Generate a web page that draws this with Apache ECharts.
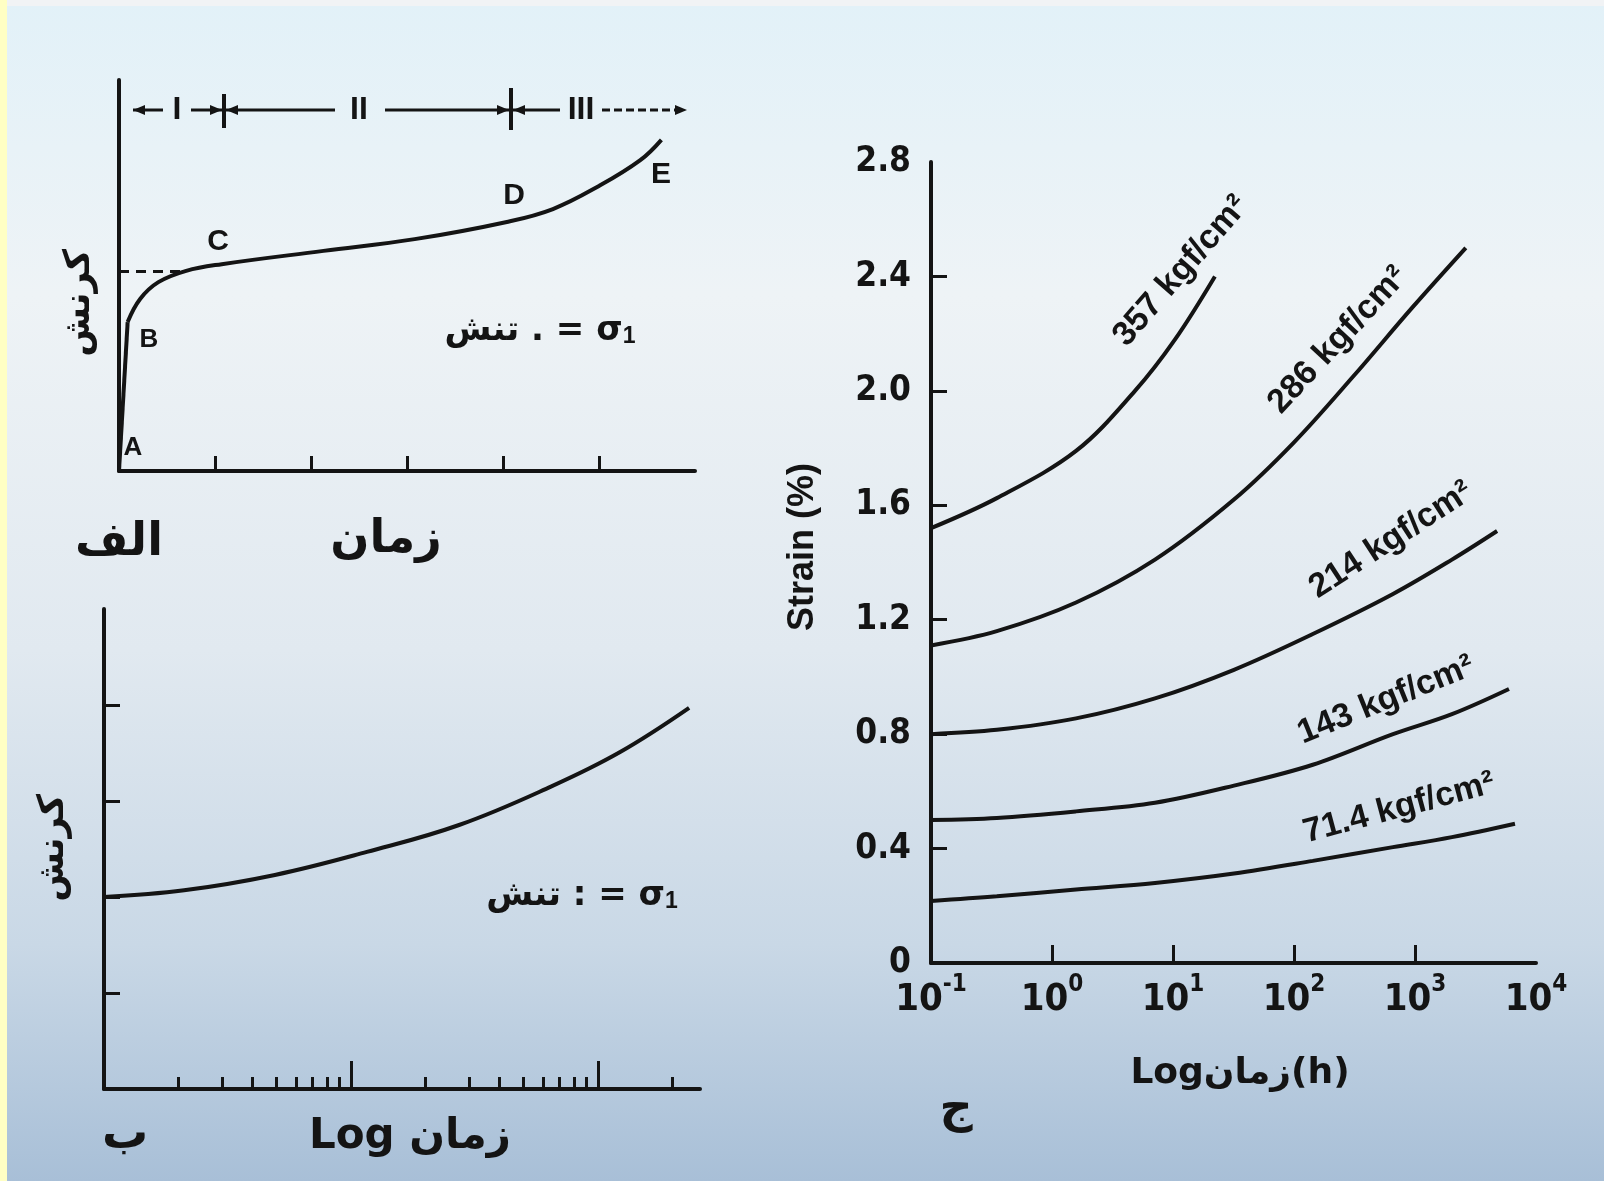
<!DOCTYPE html>
<html>
<head>
<meta charset="utf-8">
<script src="https://cdn.jsdelivr.net/npm/echarts@6.0.0/dist/echarts.min.js"></script>
<style>
html, body { margin: 0; padding: 0; background: #dfe9f1; }
#main { width: 1604px; height: 1181px; }
</style>
</head>
<body>
<div id="main"></div>
<script>
// ---- panel الف : strain vs time (schematic creep curve)
var aTicks = [1, 2, 3, 4, 5]
var abX = [0, 0.09]
var abY = [0, 3.81]
var beX = [0.09, 0.22, 0.41, 0.70, 1.07, 2.13, 3.08, 4.04, 4.52, 5.00, 5.43, 5.65]
var beY = [3.81, 4.40, 4.83, 5.12, 5.29, 5.63, 5.93, 6.37, 6.70, 7.29, 7.95, 8.47]
var dashX = [0, 0.70]
var dashY = [5.1, 5.1]

// ---- panel ب : strain vs log time
var bX = [1, 2.11, 4.92, 11.6, 27.4, 64.5, 123, 234]
var bY = [2.0, 2.07, 2.23, 2.47, 2.75, 3.15, 3.51, 3.97]
var bYTicks = [1, 2, 3, 4]
var bMajor = [10, 100]
var bMinor = [2, 3, 4, 5, 6, 7, 8, 9, 20, 30, 40, 50, 60, 70, 80, 90, 200]

// ---- panel ج : strain (%) vs log time (h)
var cXLabels = [0.1, 1, 10, 100, 1000, 10000]
var cXTicks = [1, 10, 100, 1000]
var cYTicks = [0.4, 0.8, 1.2, 1.6, 2.0, 2.4]
var stressNames = ['357 kgf/cm²', '286 kgf/cm²', '214 kgf/cm²', '143 kgf/cm²', '71.4 kgf/cm²']
var t357 = [0.1, 0.35, 1.58, 4.85, 10.4, 22.2]
var s357 = [1.52, 1.625, 1.79, 2.0, 2.18, 2.4]
var t286 = [0.1, 0.35, 1.58, 7.1, 31.9, 100, 308, 944, 2630]
var s286 = [1.11, 1.16, 1.26, 1.41, 1.62, 1.82, 2.05, 2.29, 2.50]
var t214 = [0.1, 0.35, 1.58, 7.1, 31.9, 143, 658, 2020, 4770]
var s214 = [0.80, 0.815, 0.855, 0.925, 1.025, 1.15, 1.29, 1.41, 1.51]
var t143 = [0.1, 0.35, 1.58, 7.1, 31.9, 143, 658, 2020, 5980]
var s143 = [0.50, 0.507, 0.53, 0.56, 0.62, 0.693, 0.80, 0.87, 0.958]
var t71 = [0.1, 0.35, 1.58, 7.1, 31.9, 143, 658, 2020, 6700]
var s71 = [0.217, 0.233, 0.257, 0.28, 0.313, 0.357, 0.405, 0.44, 0.487]

var INK = '#141414'
var F = "'Liberation Sans', Arial, sans-serif"
var FN = "'Liberation Sans Narrow', 'DejaVu Sans Condensed', 'Liberation Sans', sans-serif"
var FP = "'DejaVu Sans', 'Noto Sans', sans-serif"

function pairs(xs, ys) {
  return xs.map(function (x, i) { return [x, ys[i]] })
}
function curve(name, xi, yi, xs, ys, smooth, dashed) {
  return {
    name: name, type: 'line', xAxisIndex: xi, yAxisIndex: yi,
    data: pairs(xs, ys), smooth: smooth, showSymbol: false, symbol: 'none',
    lineStyle: { color: INK, width: dashed ? 3 : 4, type: dashed ? [10, 7] : 'solid' },
    z: 5
  }
}
function txt(x, y, s, size, font, rot, extra) {
  var st = { text: s, fill: INK, font: 'bold ' + size + 'px ' + font, align: 'center', verticalAlign: 'middle' }
  if (extra) for (var k in extra) st[k] = extra[k]
  return { type: 'text', x: x, y: y, rotation: (rot || 0) * Math.PI / 180, style: st, z: 10, silent: true }
}
function seg(x1, y1, x2, y2, w, dash) {
  return { type: 'line', shape: { x1: x1, y1: y1, x2: x2, y2: y2 }, style: { stroke: INK, lineWidth: w, lineDash: dash || null }, z: 10, silent: true }
}
function head(x, y, dir) {
  var d = dir * 12
  return { type: 'polygon', shape: { points: [[x, y], [x - d, y - 5], [x - d, y + 5]] }, style: { fill: INK }, z: 10, silent: true }
}

var axisLine = { show: true, onZero: false, lineStyle: { color: INK, width: 4 } }
var noLabel = { show: false }
var noSplit = { show: false }

var chart = echarts.init(document.getElementById('main'))

var subRich = {
  a: { font: 'bold 34px ' + FP, fill: INK, color: INK, verticalAlign: 'bottom', lineHeight: 42 },
  s: { font: 'bold 23px ' + F, fill: INK, color: INK, verticalAlign: 'bottom', lineHeight: 32 }
}

var graphics = [
  // background photo tone
  { type: 'rect', shape: { x: 0, y: 0, width: 1604, height: 1181 }, z: -100, silent: true,
    style: { fill: new echarts.graphic.LinearGradient(0, 0, 0, 1, [
      { offset: 0, color: '#e2f1f8' }, { offset: 0.25, color: '#eef3f6' },
      { offset: 0.55, color: '#e1e9f0' }, { offset: 0.8, color: '#c9d8e6' },
      { offset: 1, color: '#a8bfd7' }]) } },
  { type: 'rect', shape: { x: 0, y: 0, width: 1604, height: 6 }, z: -99, silent: true, style: { fill: '#f1f3f5' } },
  { type: 'rect', shape: { x: 0, y: 0, width: 7, height: 1181 }, z: -98, silent: true, style: { fill: '#ffffc4' } },

  // stage markers of panel الف
  seg(224, 94, 224, 128, 4), seg(511, 88, 511, 130, 4),
  seg(133, 110, 163, 110, 3), head(133, 110, -1), txt(177, 110, 'I', 32, F),
  seg(191, 110, 222, 110, 3), head(222, 110, 1),
  seg(226, 110, 335, 110, 3), head(226, 110, -1), txt(359, 110, 'II', 32, F),
  seg(385, 110, 509, 110, 3), head(509, 110, 1),
  seg(513, 110, 560, 110, 3), head(513, 110, -1), txt(581, 110, 'III', 32, F),
  seg(602, 110, 685, 110, 3, [8, 4]), head(687, 110, 1),

  // point letters
  txt(133, 448, 'A', 26, F), txt(149, 340, 'B', 26, F), txt(218, 242, 'C', 30, F),
  txt(514, 196, 'D', 30, F), txt(661, 175, 'E', 30, F),

  // stress notes
  { type: 'text', x: 540, y: 327, z: 10, silent: true,
    style: { text: '{a|تنش . = σ}{s|1}', rich: subRich, align: 'center', verticalAlign: 'middle' } },
  { type: 'text', x: 582, y: 892, z: 10, silent: true,
    style: { text: '{a|تنش : = σ}{s|1}', rich: subRich, align: 'center', verticalAlign: 'middle' } },

  // axis captions of الف and ب
  txt(80, 303, 'کرنش', 36, FP, 90), txt(54, 848, 'کرنش', 36, FP, 90),
  txt(119, 543, 'الف', 46, FP), txt(386, 540, 'زمان', 46, FP),
  txt(125, 1136, 'ب', 46, FP), txt(410, 1137, 'Log زمان', 42, FP),

  // panel ج captions
  txt(803, 547, 'Strain (%)', 36, F, 90),
  txt(1240, 1074, 'Logزمان(h)', 36, FP),
  txt(956, 1110, 'ج', 46, FP),

  // stress labels along curves
  txt(1181, 271, stressNames[0], 34, F, 49),
  txt(1338, 340, stressNames[1], 34, F, 47),
  txt(1391, 540, stressNames[2], 34, F, 33),
  txt(1386, 700, stressNames[3], 34, F, 22),
  txt(1399, 808, stressNames[4], 34, F, 15)
]

chart.setOption({
  animation: false,
  backgroundColor: 'transparent',
  grid: [
    { left: 119, top: 80, width: 576, height: 391, outerBoundsMode: 'none' },
    { left: 104, top: 609, width: 596, height: 480, outerBoundsMode: 'none' },
    { left: 931, top: 162, width: 605, height: 801, outerBoundsMode: 'none' }
  ],
  xAxis: [
    { gridIndex: 0, type: 'value', position: 'bottom', min: 0, max: 6, interval: 1, axisLine: axisLine,
      axisTick: { show: true, inside: true, length: 15, customValues: aTicks, lineStyle: { color: INK, width: 3 } },
      axisLabel: noLabel, splitLine: noSplit },
    { gridIndex: 1, type: 'log', position: 'bottom', logBase: 10, min: 1, max: 259, axisLine: axisLine,
      axisTick: { show: true, inside: true, length: 12, customValues: bMinor, lineStyle: { color: INK, width: 3 } },
      axisLabel: noLabel, splitLine: noSplit, minorTick: { show: false } },
    { gridIndex: 1, type: 'log', position: 'bottom', logBase: 10, min: 1, max: 259,
      axisLine: { show: false, onZero: false },
      axisTick: { show: true, inside: true, length: 28, customValues: bMajor, lineStyle: { color: INK, width: 3 } },
      axisLabel: noLabel, splitLine: noSplit },
    { gridIndex: 2, type: 'log', position: 'bottom', logBase: 10, min: 0.1, max: 10000, axisLine: axisLine,
      axisTick: { show: true, inside: true, length: 18, customValues: cXTicks, lineStyle: { color: INK, width: 3 } },
      axisLabel: {
        show: true, customValues: cXLabels, margin: 10,
        formatter: function (v) { return '{b|10}{s|' + Math.round(Math.log(v) / Math.LN10) + '}' },
        rich: {
          b: { fontSize: 38, fontWeight: 'bold', fontFamily: FN, color: INK, lineHeight: 46, verticalAlign: 'bottom' },
          s: { fontSize: 24, fontWeight: 'bold', fontFamily: FN, color: INK, verticalAlign: 'top' }
        }
      },
      splitLine: noSplit }
  ],
  yAxis: [
    { gridIndex: 0, type: 'value', position: 'left', min: 0, max: 10, axisLine: axisLine, axisTick: { show: false },
      axisLabel: noLabel, splitLine: noSplit },
    { gridIndex: 1, type: 'value', position: 'left', min: 0, max: 5, axisLine: axisLine,
      axisTick: { show: true, inside: true, length: 16, customValues: bYTicks, lineStyle: { color: INK, width: 3 } },
      axisLabel: noLabel, splitLine: noSplit },
    { gridIndex: 2, type: 'value', position: 'left', min: 0, max: 2.8, interval: 0.4, axisLine: axisLine,
      axisTick: { show: true, inside: true, length: 16, customValues: cYTicks, lineStyle: { color: INK, width: 3 } },
      axisLabel: { show: true, margin: 20, fontSize: 35, fontWeight: 'bold', fontFamily: FN, color: INK,
        formatter: function (v) { return v === 0 ? '0' : v.toFixed(1) } },
      splitLine: noSplit }
  ],
  series: [
    curve('AB', 0, 0, abX, abY, false, false),
    curve('BE', 0, 0, beX, beY, 0.4, false),
    curve('dash', 0, 0, dashX, dashY, false, true),
    curve('log', 1, 1, bX, bY, 0.4, false),
    curve(stressNames[0], 3, 2, t357, s357, 0.35, false),
    curve(stressNames[1], 3, 2, t286, s286, 0.35, false),
    curve(stressNames[2], 3, 2, t214, s214, 0.35, false),
    curve(stressNames[3], 3, 2, t143, s143, 0.35, false),
    curve(stressNames[4], 3, 2, t71, s71, 0.35, false)
  ],
  graphic: graphics
})
</script>
</body>
</html>
